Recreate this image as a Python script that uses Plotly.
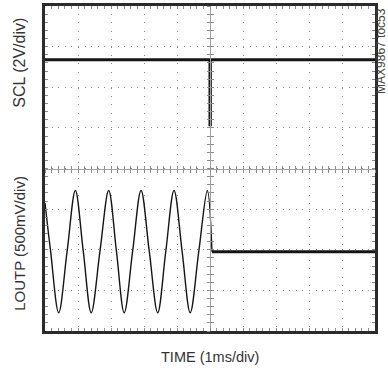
import plotly.graph_objects as go

# screen in divisions: x = time (1ms/div, 0 = centre), y = divisions (0 = centre)
scl_t = [-5.0, 0.0, 0.0, 0.01, 0.01, 5.0]
scl_v = [2.68, 2.68, 1.08, 1.08, 2.68, 2.68]

loutp_t = [-5.0, -4.83, -4.585, -4.33, -4.08, -3.84, -3.60, -3.335, -3.07, -2.835,
           -2.60, -2.345, -2.09, -1.84, -1.585, -1.34, -1.09, -0.845, -0.60, -0.34, -0.08, 0.06]
loutp_v = [-0.85, -2.04, -3.55, -2.04, -0.54, -2.04, -3.55, -2.04, -0.54, -2.04,
           -3.55, -2.04, -0.54, -2.04, -3.55, -2.04, -0.54, -2.04, -3.55, -2.04, -0.54, -2.05]

# LOUTP after shutdown
off_t = [0.06, 5.0]
off_v = [-2.05, -2.05]

FONT = "Liberation Sans, Arial, sans-serif"
GRID = "#8c8c8c"

fig = go.Figure()
fig.add_trace(go.Scatter(x=scl_t, y=scl_v, mode="lines",
                         line=dict(color="#151515", width=3)))
fig.add_trace(go.Scatter(x=loutp_t, y=loutp_v, mode="lines",
                         line=dict(color="#151515", width=1.4, shape="spline", smoothing=1.0)))
fig.add_trace(go.Scatter(x=off_t, y=off_v, mode="lines",
                         line=dict(color="#151515", width=3)))
# empty traces so the centre graticule axes get drawn
fig.add_trace(go.Scatter(x=[], y=[], xaxis="x2", yaxis="y2"))
fig.add_trace(go.Scatter(x=[], y=[], xaxis="x3", yaxis="y3"))

frame = dict(showline=True, linewidth=3, linecolor="#2b2b2b", mirror="ticks",
             zeroline=False, showticklabels=False, ticks="inside", ticklen=3,
             tickcolor=GRID, tickwidth=1, showgrid=True, gridcolor=GRID, gridwidth=1,
             minor=dict(ticks="inside", ticklen=3, tickcolor=GRID, tickwidth=1, showgrid=False))

centre = dict(showline=True, linewidth=1, linecolor="#a0a0a0", showgrid=False,
              zeroline=False, showticklabels=False, ticklen=3, tickcolor=GRID,
              tickwidth=1, anchor="free", position=0.5)

label = dict(xref="paper", yref="paper", showarrow=False,
             xanchor="center", yanchor="middle")

fig.update_layout(
    width=388, height=372,
    margin=dict(l=45, r=13, t=2.5, b=41),
    paper_bgcolor="white", plot_bgcolor="white",
    showlegend=False,
    xaxis=dict(frame, range=[-5, 5], dtick=1, tick0=0, griddash="1px,7.2px",
               minor=dict(frame["minor"], dtick=0.2)),
    yaxis=dict(frame, range=[-4, 4], dtick=1, tick0=0, griddash="1px,5.6px",
               minor=dict(frame["minor"], dtick=0.2)),
    xaxis2=dict(centre, overlaying="x", range=[-5, 5], dtick=0.2, ticks="inside"),
    xaxis3=dict(centre, overlaying="x", range=[-5, 5], dtick=0.2, ticks="outside"),
    yaxis2=dict(centre, overlaying="y", range=[-4, 4], dtick=0.2, ticks="inside"),
    yaxis3=dict(centre, overlaying="y", range=[-4, 4], dtick=0.2, ticks="outside"),
    annotations=[
        dict(label, text="SCL (2V/div)", x=-0.077, y=0.824, textangle=-90,
             font=dict(family=FONT, size=16, color="#333")),
        dict(label, text="LOUTP (500mV/div)", x=-0.077, y=0.27, textangle=-90,
             font=dict(family=FONT, size=15, color="#333")),
        dict(label, text="TIME (1ms/div)", x=0.5, y=-0.079,
             font=dict(family=FONT, size=14.5, color="#333")),
        dict(label, text="MAX9867 toc53", x=1.0185, y=0.862, textangle=-90,
             font=dict(family=FONT, size=12, color="#444")),
    ],
)

fig.write_html("out.html", config={"displayModeBar": False},
               post_script="document.body.style.margin='0px';")
